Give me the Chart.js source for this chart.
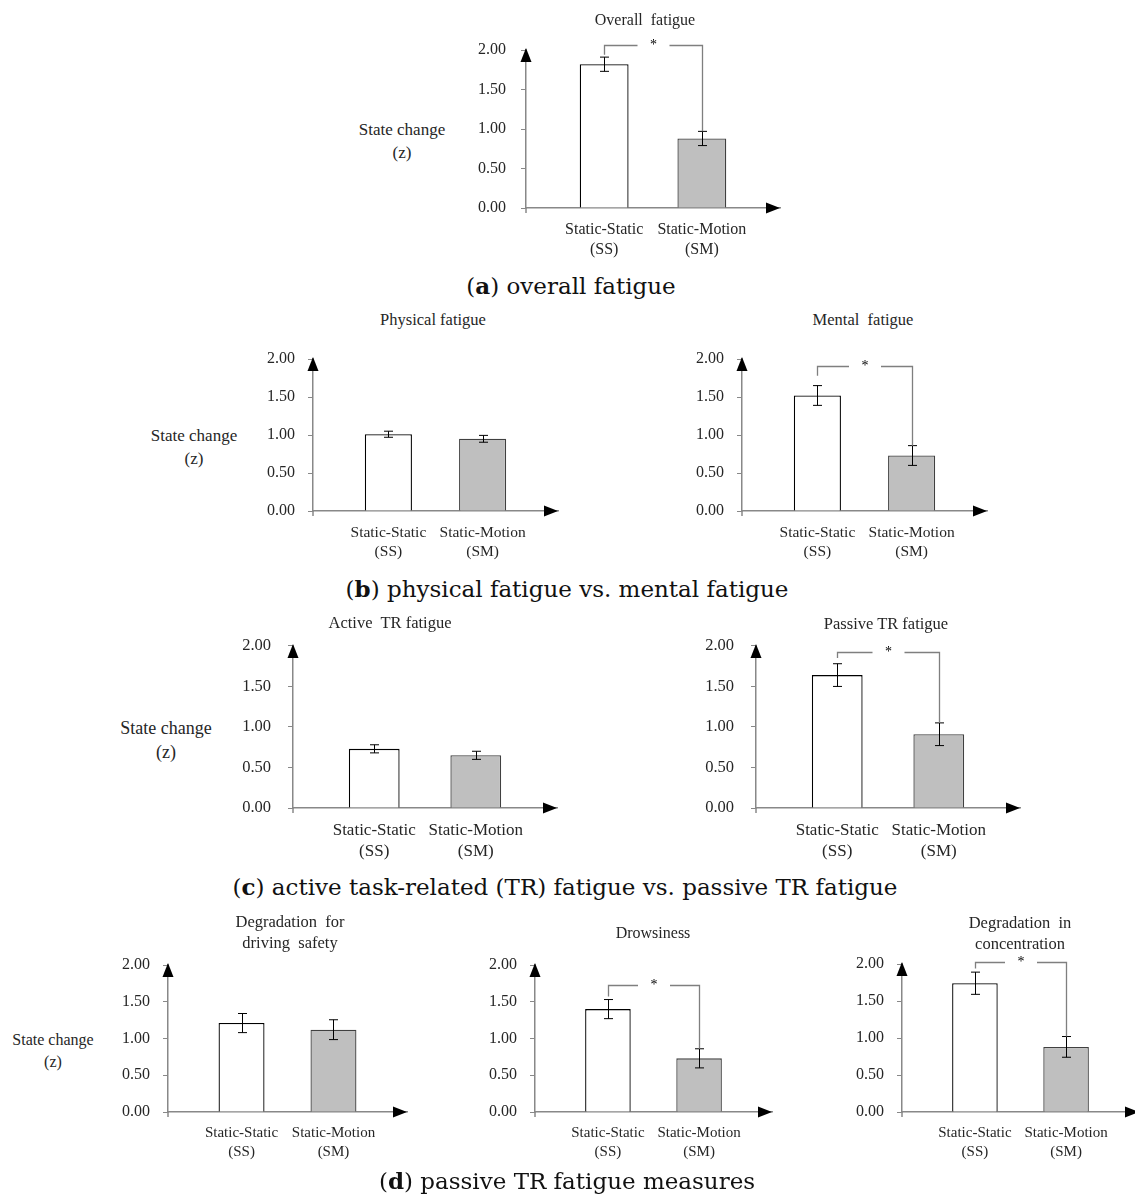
<!DOCTYPE html>
<html lang="en">
<head>
<meta charset="UTF-8">
<title>State change by condition</title>
<script src="https://cdn.jsdelivr.net/npm/chart.js@4.4.1/dist/chart.umd.min.js"></script>
<style>
    body {
        margin: 0;
        width: 1135px;
        height: 1202px;
        overflow: hidden;
        position: relative;
        background: #fff;
        font-family: "Liberation Serif", serif;
        color: #262626;
    }
    canvas { position: absolute; }
    .txt {
        position: absolute;
        transform: translate(-50%, -50%);
        white-space: pre;
        text-align: center;
    }
    .cap {
        position: absolute;
        transform: translate(-50%, -50%);
        white-space: nowrap;
        font-family: "DejaVu Serif", serif;
        font-size: 23px;
        color: #111;
    }
</style>
</head>
<body>
<script>
// data
const groups = [['Static-Static', '(SS)'], ['Static-Motion', '(SM)']];
const panelTitles = [
    'Overall  fatigue', 'Physical fatigue', 'Mental  fatigue', 'Active  TR fatigue',
    'Passive TR fatigue', 'Degradation  for\ndriving  safety', 'Drowsiness', 'Degradation  in\nconcentration'
];
const ssMean = [1.82, 1.01, 1.52, 0.73, 1.64, 1.21, 1.40, 1.74];
const smMean = [0.88, 0.95, 0.73, 0.65, 0.91, 1.12, 0.73, 0.88];
const ssErr = [0.09, 0.04, 0.13, 0.05, 0.14, 0.13, 0.13, 0.15];
const smErr = [0.09, 0.045, 0.13, 0.05, 0.14, 0.135, 0.13, 0.14];
const significant = [true, false, true, false, true, false, true, true];
const bracketLevel = [2.06, null, 1.91, null, 1.93, null, 1.73, 2.03];
const bracketLeftEnd = [1.94, null, 1.78, null, 1.85, null, 1.57, 1.94];
const yTicks = [0, 0.5, 1, 1.5, 2];
const yLabel = 'State change\n(z)';
const captions = [
    ['a', ' overall fatigue'],
    ['b', ' physical fatigue vs. mental fatigue'],
    ['c', ' active task-related (TR) fatigue vs. passive TR fatigue'],
    ['d', ' passive TR fatigue measures']
];

// where each panel sits on the page (axis origin x, top/bottom of the y range, arrow end)
const layout = [
    { ax: 526, top: 50, bottom: 208, end: 780, tick: 16, lab: 16, ypad: 15, title: [645, 20, 16] },
    { ax: 313, top: 359, bottom: 511, end: 558, tick: 16, lab: 15.5, ypad: 13, title: [433, 320, 16.5] },
    { ax: 742, top: 359, bottom: 511, end: 987, tick: 16, lab: 15.5, ypad: 13, title: [863, 320, 16.5] },
    { ax: 293, top: 644, bottom: 808, end: 557, tick: 16.5, lab: 17, ypad: 17, title: [390, 623, 16.5] },
    { ax: 756, top: 644, bottom: 808, end: 1020, tick: 16.5, lab: 17, ypad: 17, title: [886, 624, 16.5] },
    { ax: 168, top: 965, bottom: 1112, end: 407, tick: 16, lab: 15, ypad: 13, title: [290, 932, 16.5] },
    { ax: 535, top: 965, bottom: 1112, end: 772, tick: 16, lab: 15, ypad: 13, title: [653, 933, 16] },
    { ax: 902, top: 964, bottom: 1112, end: 1139, tick: 16, lab: 15, ypad: 13, title: [1020, 933, 16.5] }
];
const yLabelPos = [[402, 142, 17], [194, 448, 17], [166, 740, 18], [53, 1051, 16]];
const captionPos = [[571, 285], [567, 588], [565, 886], [567, 1180]];

const PAD_TOP = 25, Y_W = 60, X_H = 60;

function addText(cls, x, y, text, size, lh) {
    const d = document.createElement('div');
    d.className = cls;
    d.style.left = x + 'px';
    d.style.top = y + 'px';
    if (size) d.style.fontSize = size + 'px';
    if (lh) d.style.lineHeight = lh;
    d.textContent = text;
    document.body.appendChild(d);
    return d;
}

const decorations = {
    id: 'decorations',
    afterDatasetsDraw(chart, args, opts) {
        const ctx = chart.ctx;
        const x = chart.scales.x, y = chart.scales.y;
        const p = opts.panel;
        ctx.save();
        // error bars
        ctx.strokeStyle = '#000';
        ctx.lineWidth = 1;
        [[1, ssMean[p], ssErr[p]], [2, smMean[p], smErr[p]]].forEach(([xv, m, e]) => {
            const px = Math.round(x.getPixelForValue(xv)) + 0.5;
            const yt = y.getPixelForValue(m + e), yb = y.getPixelForValue(m - e);
            ctx.beginPath();
            ctx.moveTo(px, yt); ctx.lineTo(px, yb);
            ctx.moveTo(px - 4.5, yt); ctx.lineTo(px + 4.5, yt);
            ctx.moveTo(px - 4.5, yb); ctx.lineTo(px + 4.5, yb);
            ctx.stroke();
        });
        // significance bracket
        if (significant[p]) {
            const x1 = Math.round(x.getPixelForValue(1)) + 0.5;
            const x2 = Math.round(x.getPixelForValue(2)) + 0.5;
            const yl = Math.round(y.getPixelForValue(bracketLevel[p])) + 0.5;
            const y1 = y.getPixelForValue(bracketLeftEnd[p]);
            const y2 = y.getPixelForValue(smMean[p] + smErr[p]);
            const mid = (x1 + x2) / 2;
            ctx.strokeStyle = '#7f7f7f';
            ctx.lineWidth = 1.3;
            ctx.beginPath();
            ctx.moveTo(x1, y1); ctx.lineTo(x1, yl); ctx.lineTo(mid - 16, yl);
            ctx.moveTo(mid + 16, yl); ctx.lineTo(x2, yl); ctx.lineTo(x2, y2);
            ctx.stroke();
            ctx.fillStyle = '#000';
            ctx.font = '14px "Liberation Serif"';
            ctx.textAlign = 'center';
            ctx.textBaseline = 'middle';
            ctx.fillText('*', mid, yl);
        }
        ctx.restore();
    },
    afterDraw(chart) {
        const ctx = chart.ctx;
        const a = chart.chartArea;
        ctx.save();
        ctx.fillStyle = '#000';
        // y arrow
        ctx.beginPath();
        ctx.moveTo(a.left, a.top - 2);
        ctx.lineTo(a.left - 5.5, a.top + 12);
        ctx.lineTo(a.left + 5.5, a.top + 12);
        ctx.closePath();
        ctx.fill();
        // x arrow
        ctx.beginPath();
        ctx.moveTo(a.right, a.bottom);
        ctx.lineTo(a.right - 14, a.bottom - 5.5);
        ctx.lineTo(a.right - 14, a.bottom + 5.5);
        ctx.closePath();
        ctx.fill();
        // little tick under the origin
        ctx.strokeStyle = '#888';
        ctx.lineWidth = 1.5;
        ctx.beginPath();
        ctx.moveTo(a.left, a.bottom);
        ctx.lineTo(a.left, a.bottom + 5);
        ctx.stroke();
        ctx.restore();
    }
};

layout.forEach((L, p) => {
    const canvas = document.createElement('canvas');
    const w = (L.end - L.ax) + Y_W + 3;
    const h = (L.bottom - L.top) + PAD_TOP + X_H + 2;
    canvas.width = w;
    canvas.height = h;
    canvas.style.left = (L.ax - Y_W) + 'px';
    canvas.style.top = (L.top - PAD_TOP) + 'px';
    document.body.appendChild(canvas);

    new Chart(canvas.getContext('2d'), {
        type: 'bar',
        data: {
            datasets: [{
                data: [{ x: 1, y: ssMean[p] }, { x: 2, y: smMean[p] }],
                backgroundColor: ['#ffffff', '#bfbfbf'],
                borderColor: ['#000000', '#404040'],
                borderWidth: 1.3,
                barPercentage: 0.5,
                categoryPercentage: 1
            }]
        },
        options: {
            responsive: false,
            animation: false,
            layout: { padding: { left: 0, top: PAD_TOP, right: 3, bottom: 2 } },
            plugins: {
                legend: { display: false },
                tooltip: { enabled: false },
                decorations: { panel: p }
            },
            scales: {
                x: {
                    type: 'linear',
                    offset: false,
                    min: 0.2,
                    max: 2.8,
                    afterFit: s => { s.height = X_H; },
                    afterBuildTicks: s => { s.ticks = [{ value: 1 }, { value: 2 }]; },
                    grid: { display: false, offset: false },
                    border: { display: true, color: '#888', width: 1.5 },
                    ticks: {
                        padding: 4,
                        maxRotation: 0,
                        autoSkip: false,
                        color: '#262626',
                        font: { family: 'Liberation Serif', size: L.lab, lineHeight: 1.25 },
                        callback: v => groups[v - 1]
                    }
                },
                y: {
                    min: 0,
                    max: 2,
                    afterFit: s => { s.width = Y_W; },
                    afterBuildTicks: s => { s.ticks = yTicks.map(v => ({ value: v })); },
                    grid: { display: true, drawOnChartArea: false, drawTicks: true, tickLength: 5, color: '#888' },
                    border: { display: true, color: '#888', width: 1.5 },
                    ticks: {
                        padding: L.ypad,
                        color: '#262626',
                        font: { family: 'Liberation Serif', size: L.tick },
                        callback: v => v.toFixed(2)
                    }
                }
            }
        },
        plugins: [decorations]
    });

    addText('txt', L.title[0], L.title[1], panelTitles[p], L.title[2], 1.3);
});

yLabelPos.forEach(([x, y, s]) => addText('txt', x, y, yLabel, s, 1.35));

captions.forEach(([letter, rest], i) => {
    const d = addText('cap', captionPos[i][0], captionPos[i][1], '');
    d.append('(');
    const b = document.createElement('b');
    b.textContent = letter;
    d.append(b, ')' + rest);
});
</script>
</body>
</html>
